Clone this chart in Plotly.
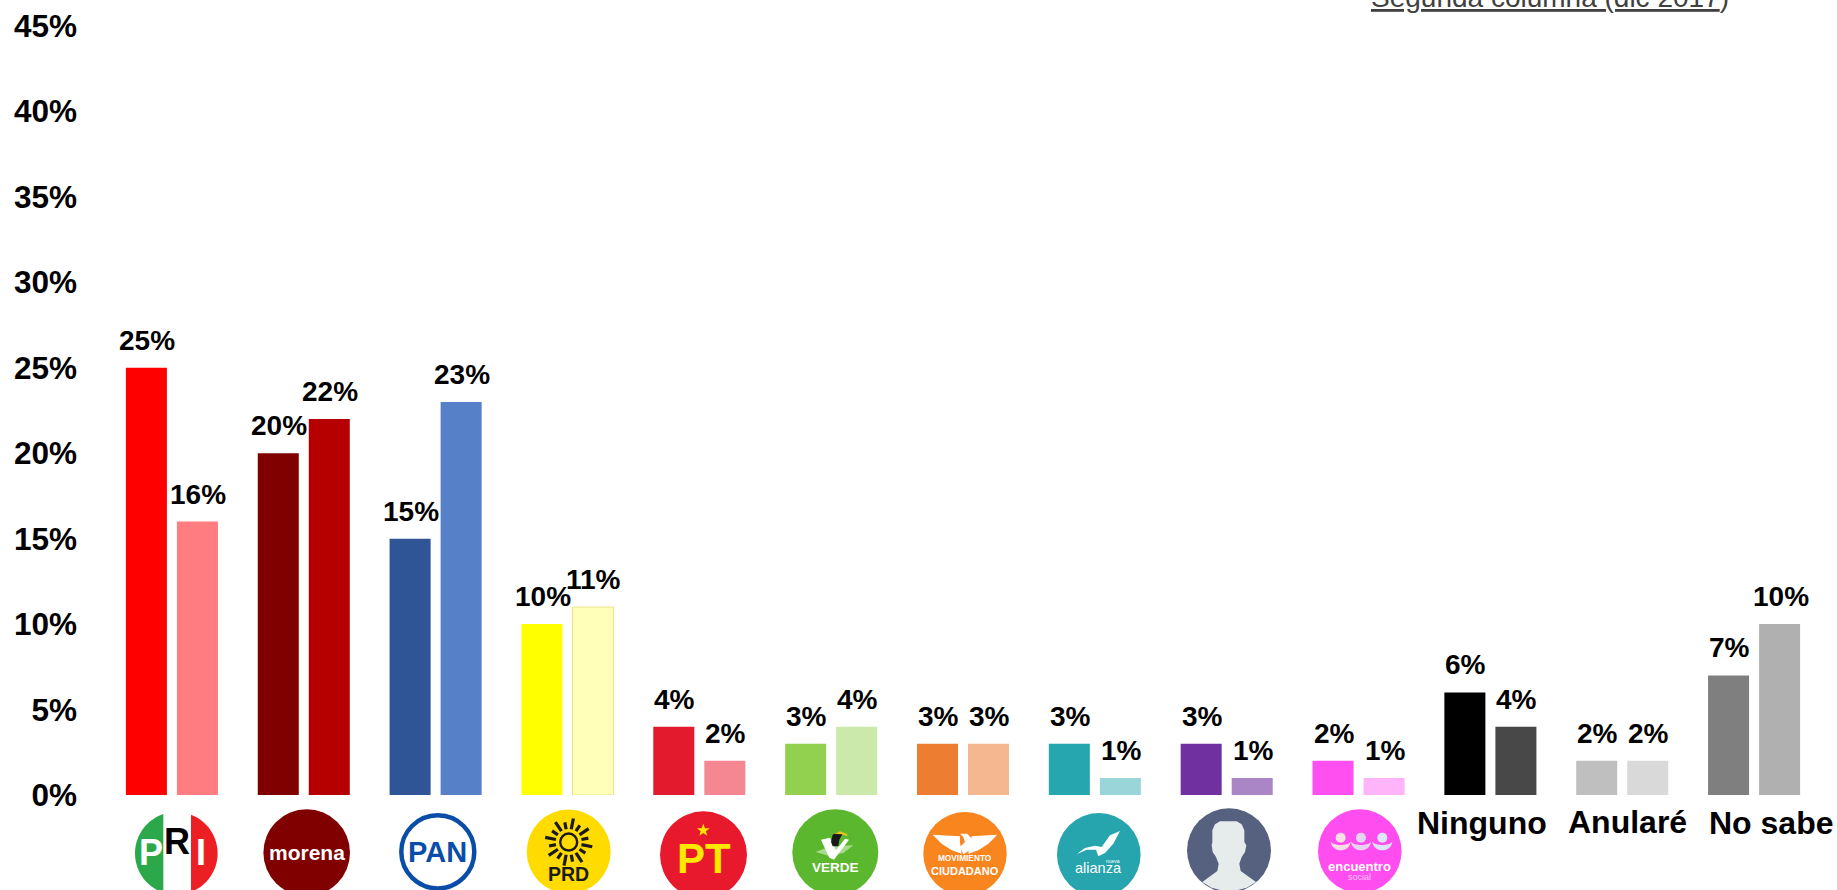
import numpy as np
import plotly.graph_objects as go

W_PAGE, H_PAGE = 1837, 890
L, R, T, B = 106, 17, 26.4, 95.3
PW, PH = W_PAGE - L - R, H_PAGE - T - B

categories = ["PRI", "Morena", "PAN", "PRD", "PT", "Verde", "Movimiento Ciudadano",
              "Nueva Alianza", "Independiente", "Encuentro Social", "Ninguno", "Anularé", "No sabe"]
first_column = [25, 20, 15, 10, 4, 3, 3, 3, 3, 2, 6, 2, 7]
second_column = [16, 22, 23, 11, 2, 4, 3, 1, 1, 1, 4, 2, 10]
first_colors = ["#FF0000", "#800000", "#2F5597", "#FFFF00", "#E3192E", "#92D050", "#ED7D31",
                "#26A6AF", "#7030A0", "#FF4FF0", "#000000", "#BFBFBF", "#7F7F7F"]
second_colors = ["#FF7C80", "#B60000", "#5680C8", "#FFFFB9", "#F58792", "#CAE9AA", "#F4B78F",
                 "#9AD6D9", "#AB86C6", "#FFB3F8", "#484848", "#D9D9D9", "#B0B0B0"]
y_ticks = [0, 5, 10, 15, 20, 25, 30, 35, 40, 45]
y_tick_labels = [f"{v}%" for v in y_ticks]
FONT = "Liberation Sans, Arial, sans-serif"

fig = go.Figure()
fig.add_bar(x=categories, y=first_column, name="Primera columna",
            marker=dict(color=first_colors, line_width=0), hoverinfo="x+y")
fig.add_bar(x=categories, y=second_column, name="Segunda columna",
            marker=dict(color=second_colors,
                        line=dict(width=[1 if c == "PRD" else 0 for c in categories], color="#E6E68C")),
            hoverinfo="x+y")

annotations = []
shapes = []


def xp(x):
    return (x - L) / PW


def yp(y):
    return (H_PAGE - B - y) / PH


# value labels above the bars
for cat, a, b in zip(categories, first_column, second_column):
    for value, shift in ((a, -24.5), (b, 26.5)):
        annotations.append(dict(x=cat, y=value, xref="x", yref="y", xshift=shift, yshift=10,
                                yanchor="bottom", showarrow=False, text=f"<b>{value}%</b>",
                                font=dict(family=FONT, size=28, color="#000000")))


def text(x, y, s, size, color, family=FONT, bold=True):
    annotations.append(dict(x=xp(x), y=yp(y), xref="paper", yref="paper", xanchor="center", yanchor="middle",
                            showarrow=False, text=f"<b>{s}</b>" if bold else s,
                            font=dict(family=family, size=size, color=color)))


def circle(cx, cy, r, fill, line=None, lw=0):
    shapes.append(dict(type="circle", xref="paper", yref="paper",
                       x0=xp(cx - r), x1=xp(cx + r), y0=yp(cy + r), y1=yp(cy - r),
                       fillcolor=fill, line=dict(color=line or fill, width=lw)))


def poly(pts, fill=None, line=None, lw=0, closed=True):
    d = "M" + " L".join(f"{xp(x):.5f},{yp(y):.5f}" for x, y in pts) + (" Z" if closed else "")
    shapes.append(dict(type="path", xref="paper", yref="paper", path=d,
                       fillcolor=fill if fill else "rgba(0,0,0,0)",
                       line=dict(color=line if line else "rgba(0,0,0,0)", width=lw)))


def zoomed(ox, oy, pts):
    return [(ox + x / 3, oy + y / 3) for x, y in pts]


def arc(cx, cy, r, t0, t1, n=40):
    return [(cx + r * np.cos(t), cy + r * np.sin(t)) for t in np.linspace(t0, t1, n)]


# PRI
cx, cy, r = 176.3, 853, 41.3
circle(cx, cy, r, "#FFFFFF")
th = np.arccos((163.3 - cx) / r)
poly(arc(cx, cy, r, th, 2 * np.pi - th), "#2BA84A")
th = np.arccos((191 - cx) / r)
poly(arc(cx, cy, r, -th, th), "#EC2024")
text(150.5, 852, "P", 36, "#FFFFFF")
text(177, 841, "R", 36, "#000000")
text(201, 852, "I", 36, "#FFFFFF")

# Morena
circle(306.7, 852.3, 43.3, "#800000")
text(306.7, 852.5, "morena", 21, "#FFFFFF")

# PAN
circle(437.8, 851.5, 36.5, "#FFFFFF", "#0A4DA8", 4.5)
text(437.8, 851.5, "PAN", 29, "#0A4DA8")

# PRD
cx, cy = 568.7, 841.7
circle(568.7, 851.3, 42, "#FFDB00")
circle(cx, cy, 8.5, "rgba(0,0,0,0)", "#1A1A1A", 2.4)
for i, t in enumerate(np.linspace(0, 2 * np.pi, 16, endpoint=False) + np.pi / 16):
    r0, r1 = (13, 24) if i % 2 == 0 else (13, 20)
    poly([(cx + r0 * np.cos(t), cy + r0 * np.sin(t)), (cx + r1 * np.cos(t), cy + r1 * np.sin(t))],
         None, "#1A1A1A", 3.2, closed=False)
text(568.7, 873.5, "PRD", 19.5, "#1A1A1A")

# PT
circle(703.5, 854.5, 43.5, "#E8192C")
sx, sy = 703.3, 830
star = []
for i in range(10):
    rr = 6.8 if i % 2 == 0 else 2.7
    t = -np.pi / 2 + i * np.pi / 5
    star.append((sx + rr * np.cos(t), sy + rr * np.sin(t)))
poly(star, "#FFE800")
text(703.5, 858, "PT", 42, "#FFE800")

# Verde
circle(835.3, 852, 43, "#5BB82E")
poly(zoomed(650, 800, [(497, 155), (540, 138), (610, 135), (580, 158), (535, 166)]), "#A9DB8C")
poly(zoomed(650, 800, [(513, 118), (540, 112), (558, 150), (585, 115), (597, 118), (552, 178), (538, 172)]), "#FFFFFF")
poly(zoomed(650, 800, [(543, 125), (548, 103), (565, 95), (578, 100), (568, 118), (565, 138), (548, 138)]), "#1A1A1A")
poly(zoomed(650, 800, [(552, 100), (570, 93), (590, 100), (593, 108), (575, 102)]), "#E8C41C")
text(835.3, 867, "VERDE", 13.5, "#FFFFFF")

# Movimiento Ciudadano
circle(965, 853.4, 41.7, "#F9851F")
poly(zoomed(910, 800, [(68, 103), (150, 108), (150, 125), (155, 160), (125, 150), (95, 130)]), "#FFFFFF")
poly(zoomed(910, 800, [(262, 103), (185, 108), (180, 125), (175, 160), (205, 150), (235, 130)]), "#FFFFFF")
poly(zoomed(910, 800, [(150, 100), (172, 100), (185, 115), (180, 150), (160, 162), (150, 140), (165, 125), (160, 110)]), "#FFFFFF")
text(965, 865, "<span style='font-size:8.3px'>MOVIMIENTO</span><br>CIUDADANO", 11, "#FFFFFF")

# Nueva Alianza
circle(1098.8, 854.5, 41.8, "#26A5AE")
poly(zoomed(910, 800, [(500, 162), (525, 143), (555, 136), (575, 140), (600, 105), (630, 92), (610, 130), (585, 158),
                       (565, 168), (558, 148), (530, 148)]), "#FFFFFF")
text(1098.8, 868, "alianza", 14.5, "#FFFFFF", bold=False)
text(1113, 860.5, "nueva", 5, "#FFFFFF", bold=False)

# Independiente
circle(1229, 850, 42, "#56617F")
poly(zoomed(1170, 800, [(127, 90), (135, 72), (150, 63), (200, 63), (215, 72), (223, 90), (223, 125), (229, 135),
                        (225, 155), (215, 170), (208, 190), (212, 212), (258, 245), (230, 262), (177, 276),
                        (125, 262), (97, 245), (142, 212), (146, 190), (138, 170), (128, 155), (125, 135),
                        (127, 125)]), "#E6ECEC")

# Encuentro Social
circle(1359.8, 850.8, 41.8, "#FF4DEF")
for zx, tone in ((512, "#FFDDE5"), (573, "#E6D5F2"), (637, "#DCE6FF")):
    hx, hy = 1170 + zx / 3, 800 + 112 / 3
    circle(hx, hy, 5, tone)
    outer = [(hx + 10 * np.cos(t), hy + 3.3 + 9.4 * np.sin(t)) for t in np.linspace(0, np.pi, 30)]
    inner = [(hx + 10 * np.cos(t), hy + 3.3 + 4 * np.sin(t)) for t in np.linspace(np.pi, 0, 30)]
    poly(outer + inner, tone)
text(1359.8, 866, "encuentro", 13, "#FFFFFF")
text(1359.8, 877, "social", 9, "#FFC4F9", bold=False)

# text categories
text(1481.5, 823, "Ninguno", 32, "#000000")
text(1627.5, 822, "Anularé", 32, "#000000")
text(1771, 823, "No sabe", 32, "#000000")

# legend line, cropped by the page edge
annotations.append(dict(x=xp(1731), y=yp(-2), xref="paper", yref="paper", xanchor="right", yanchor="middle",
                        showarrow=False, text="<u>Segunda columna (dic 2017</u>)",
                        font=dict(family=FONT, size=28, color="#404040")))

fig.update_layout(
    width=W_PAGE, height=H_PAGE,
    margin=dict(l=L, r=R, t=T, b=B, autoexpand=False),
    paper_bgcolor="#FFFFFF", plot_bgcolor="#FFFFFF",
    barmode="group", bargap=0.226, bargroupgap=0.196,
    showlegend=False,
    xaxis=dict(categoryorder="array", categoryarray=categories, showticklabels=False, ticks="",
               showgrid=False, zeroline=False, showline=False),
    yaxis=dict(range=[0, 45], tickvals=y_ticks, ticktext=y_tick_labels, ticks="", showgrid=False,
               zeroline=False, showline=False, ticklabelstandoff=28,
               tickfont=dict(family=FONT, size=31.5, color="#000000", weight="bold")),
    annotations=annotations,
    shapes=shapes,
)

fig.write_html("out.html", config=dict(displayModeBar=False),
               post_script="document.body.style.margin='0';document.body.style.overflow='hidden';")
